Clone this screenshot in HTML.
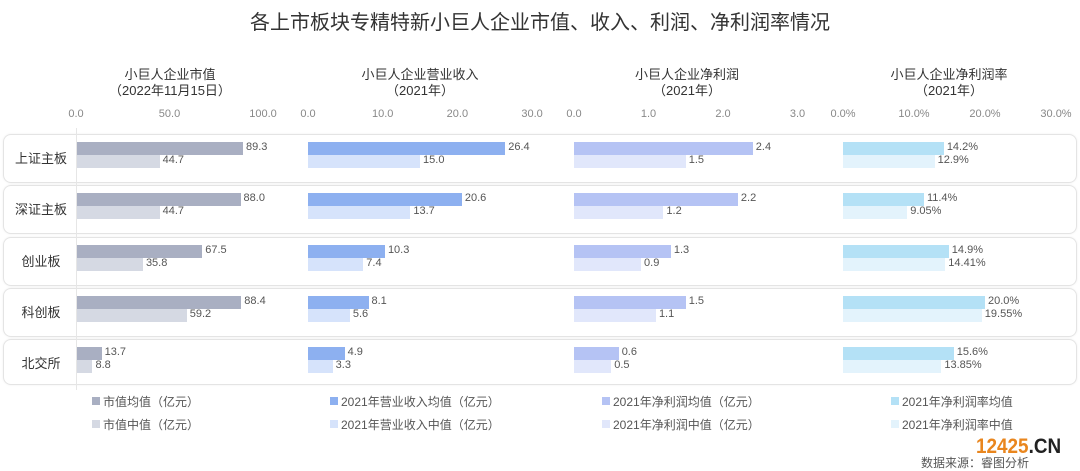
<!DOCTYPE html>
<html><head><meta charset="utf-8"><style>
body{margin:0;width:1080px;height:471px;background:#fff;font-family:"Liberation Sans","Noto Sans CJK SC",sans-serif;position:relative;overflow:hidden;color:#333}
.a{position:absolute;white-space:nowrap}
.t{font-size:20px;color:#333;left:0;width:1080px;text-align:center;top:6px}
.h{font-size:13px;color:#333;text-align:center;width:220px;line-height:16px}
.k{font-size:11px;color:#888;transform:translateX(-50%)}
.box{position:absolute;left:3px;width:1072px;border:1px solid #e4e4e4;border-radius:8px;box-shadow:0 0 2px #eee}
.lb{font-size:13px;color:#333;width:70px;text-align:center}
.b{position:absolute;height:13px}
.v{font-size:11px;color:#555}
.lg{font-size:12px;color:#555}
.sq{position:absolute;width:8px;height:8px}
</style></head><body>
<div class="a t">各上市板块专精特新小巨人企业市值、收入、利润、净利润率情况</div>
<div class="a h" style="left:60px;top:67px">小巨人企业市值<br>（2022年11月15日）</div>
<div class="a h" style="left:310px;top:67px">小巨人企业营业收入<br>（2021年）</div>
<div class="a h" style="left:577px;top:67px">小巨人企业净利润<br>（2021年）</div>
<div class="a h" style="left:839px;top:67px">小巨人企业净利润率<br>（2021年）</div>
<div id="g"></div>
<div class="a" style="left:76px;top:128px;width:1px;height:262px;background:#e6e6e6"></div>
<div class="a" style="left:976px;top:435px;font-size:21px;font-weight:bold;color:#e9861e;transform:scaleX(0.9);transform-origin:left">12425<span style="color:#222">.CN</span></div>
<div class="a" style="left:921px;top:454px;font-size:12px;color:#555">数据来源：睿图分析</div>
<script>
var g=document.getElementById('g'),h='';
var ticks=[[76,1.87,['0.0','50.0','100.0'],50],[308,7.47,['0.0','10.0','20.0','30.0'],10],[574,74.5,['0.0','1.0','2.0','3.0'],1],[843,7.1,['0.0%','10.0%','20.0%','30.0%'],10]];
ticks.forEach(function(t){t[2].forEach(function(s,i){h+='<div class="a k" style="left:'+(t[0]+i*t[3]*t[1])+'px;top:108px">'+s+'</div>'})});
var rows=['上证主板','深证主板','创业板','科创板','北交所'];
var D=[[[89.3,44.7],[26.4,15.0],[2.4,1.5],[14.2,12.9,'14.2%','12.9%']],
[[88.0,44.7],[20.6,13.7],[2.2,1.2],[11.4,9.05,'11.4%','9.05%']],
[[67.5,35.8],[10.3,7.4],[1.3,0.9],[14.9,14.41,'14.9%','14.41%']],
[[88.4,59.2],[8.1,5.6],[1.5,1.1],[20.0,19.55,'20.0%','19.55%']],
[[13.7,8.8],[4.9,3.3],[0.6,0.5],[15.6,13.85,'15.6%','13.85%']]];
var C=[['#a9afc2','#d5d9e3'],['#8db0f0','#d6e3fb'],['#b5c3f4','#e1e7fb'],['#b4e1f6','#e3f3fc']];
var tops=[134,185,237,288,339],hs=[47,47,47,47,44];
rows.forEach(function(r,i){var y=tops[i];
h+='<div class="box" style="top:'+y+'px;height:'+hs[i]+'px"></div>';
h+='<div class="a lb" style="left:6px;top:'+(y+14)+'px">'+r+'</div>';
D[i].forEach(function(d,j){var x0=ticks[j][0],s=ticks[j][1];
for(var k=0;k<2;k++){var w=d[k]*s,yy=y+8+k*13;
var lab=d[k+2]||d[k].toFixed(1);
h+='<div class="b" style="left:'+x0+'px;top:'+yy+'px;width:'+w+'px;background:'+C[j][k]+'"></div>';
h+='<div class="a v" style="left:'+(x0+w+3)+'px;top:'+(yy-1)+'px">'+lab+'</div>';}
});});
var L=[[92,'市值均值（亿元）','市值中值（亿元）'],[330,'2021年营业收入均值（亿元）','2021年营业收入中值（亿元）'],[602,'2021年净利润均值（亿元）','2021年净利润中值（亿元）'],[891,'2021年净利润率均值','2021年净利润率中值']];
L.forEach(function(l,j){for(var k=0;k<2;k++){var y=393+k*23;
h+='<div class="sq" style="left:'+l[0]+'px;top:'+(y+4)+'px;background:'+C[j][k]+'"></div>';
h+='<div class="a lg" style="left:'+(l[0]+11)+'px;top:'+y+'px">'+l[k+1]+'</div>';}});
g.innerHTML=h;
</script>
</body></html>
